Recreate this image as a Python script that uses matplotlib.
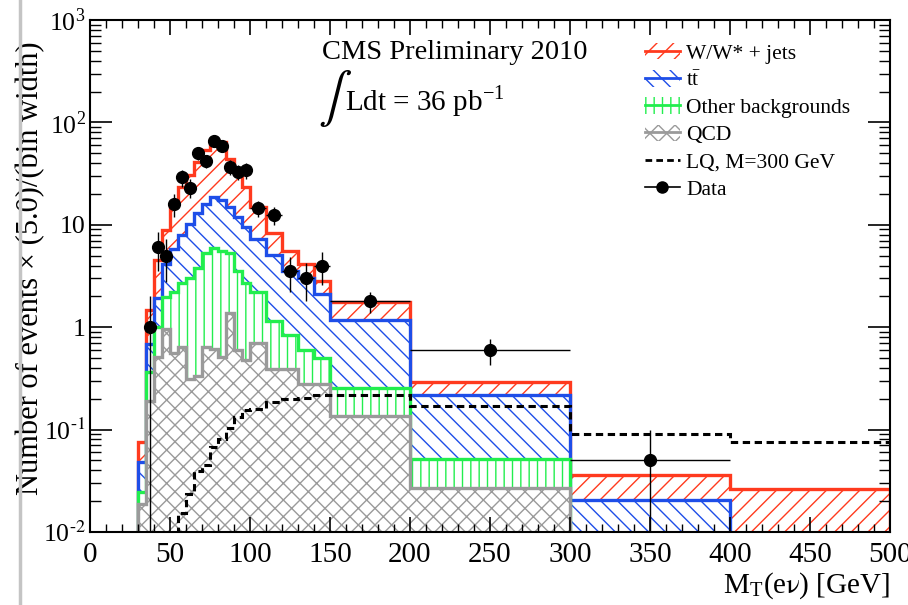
import numpy as np
import matplotlib
matplotlib.use("Agg")
import matplotlib.pyplot as plt
from matplotlib.patches import Patch
from matplotlib.lines import Line2D

plt.rcParams['font.family'] = ['Liberation Serif', 'DejaVu Serif']
plt.rcParams['mathtext.fontset'] = 'stix'
plt.rcParams['hatch.linewidth'] = 1.0

# bin edges in GeV (5 GeV bins up to 100, then wider)
edges = [30, 35, 40, 45, 50, 55, 60, 65, 70, 75, 80, 85, 90, 95, 100,
         110, 120, 130, 140, 150, 200, 300, 400, 500]

# stacked tops (events x 5/bin width)
top_wjets = [0.076, 1.47, 4.5, 8.9, 16, 23.4, 30.5, 41, 54, 67, 64, 44, 34,
             23.4, 15, 8.3, 5.5, 4.1, 2.85, 1.77, 0.29, 0.036, 0.026]
top_ttbar = [0.048, 0.68, 1.92, 4.1, 5.8, 8.0, 10.1, 13.1, 16, 18.5, 17.3,
             14.8, 11.8, 9.5, 7.3, 5.1, 3.5, 3.0, 2.1, 1.17, 0.217, 0.0204, 1e-4]
top_other = [0.0246, 0.366, 1.0, 1.97, 2.2, 2.7, 3.0, 3.75, 5.3, 5.9, 5.6,
             5.3, 3.5, 2.7, 2.2, 1.15, 0.835, 0.6, 0.5, 0.252, 0.052, 1e-4, 1e-4]
top_qcd = [0.0186, 0.19, 0.51, 0.97, 0.56, 0.64, 0.31, 0.33, 0.64, 0.61,
           0.51, 1.38, 0.6, 0.48, 0.70, 0.39, 0.39, 0.28, 0.28, 0.135, 0.027,
           1e-4, 1e-4]
lq_300 = [1e-4, 1e-4, 1e-4, 1e-4, 1e-4, 0.0152, 0.0235, 0.039, 0.045, 0.068,
          0.08, 0.104, 0.133, 0.155, 0.16, 0.186, 0.2, 0.205, 0.217, 0.22,
          0.17, 0.09, 0.076]

# data points
data_x = [37.5, 42.5, 47.5, 52.5, 57.5, 62.5, 67.5, 72.5, 77.5, 82.5, 87.5,
          92.5, 97.5, 105, 115, 125, 135, 145, 175, 250, 350]
data_xerr = [2.5] * 13 + [5] * 5 + [25, 50, 50]
data_y = [1, 6, 5, 16, 29, 23, 50, 42, 66, 59, 37, 33, 34, 14.5, 12.5, 3.5,
          3.0, 4.0, 1.8, 0.6, 0.05]
data_err = [0.9999, 2.45, 2.24, 4, 5.4, 4.8, 7.1, 6.5, 8.1, 7.7, 6.1, 5.7,
            5.8, 2.7, 2.5, 1.3, 1.2, 1.4, 0.42, 0.17, 0.04999]

ytick_vals = [0.01, 0.1, 1, 10, 100, 1000]
ytick_text = ['10$^{\\mathregular{\u2010}2}$', '10$^{\\mathregular{\u2010}1}$',
              '1', '10', '10$^{\\mathregular{2}}$', '10$^{\\mathregular{3}}$']

c_w = '#ff3a1e'
c_tt = '#1e4ee8'
c_oth = '#22ee4e'
c_qcd = '#9a9a9a'
h_w, h_tt, h_oth, h_qcd = '//', '\\\\', '||', 'xx'

fig = plt.figure(figsize=(9.08, 6.05), dpi=100)
ax = fig.add_axes([0.0991, 0.1207, 0.8811, 0.8463])
ax.set_yscale('log')

base = 1e-4
stack = [(top_wjets, c_w, h_w), (top_ttbar, c_tt, h_tt),
         (top_other, c_oth, h_oth), (top_qcd, c_qcd, h_qcd)]
for vals, col, h in stack:
    ax.stairs(vals, edges, baseline=base, fill=True, facecolor='white',
              edgecolor=col, hatch=h, lw=0)
    ax.stairs(vals, edges, baseline=base, fill=False, color=col, lw=2.4)

ax.stairs(lq_300, edges, baseline=None, color='black', lw=2.2,
          linestyle=(0, (2.4, 1.5)))

ax.errorbar(data_x, data_y, xerr=data_xerr, yerr=data_err, fmt='o',
            color='black', ms=8.5, elinewidth=1.0, capsize=0)

ax.set_xlim(0, 500)
ax.set_ylim(0.01, 1000)
ax.set_xticks(range(0, 501, 50))
ax.set_xticks(range(0, 501, 10), minor=True)
ax.set_yticks(ytick_vals)
ax.set_yticklabels(ytick_text)
ax.tick_params(axis='both', which='both', direction='in', top=True,
               right=True)
ax.tick_params(axis='x', which='major', length=11, width=1.2, pad=7,
               labelsize=21)
ax.tick_params(axis='x', which='minor', length=6, width=1.0)
ax.tick_params(axis='y', which='major', length=16, width=1.2, pad=3,
               labelsize=18.5)
ax.tick_params(axis='y', which='minor', length=8, width=1.0)
for sp in ax.spines.values():
    sp.set_linewidth(1.5)

ax.set_ylabel('Number of events × (5.0)/(bin width)', fontsize=22)
ax.yaxis.set_label_coords(-0.056, 0.515)
ax.set_xlabel(r'M$_\mathregular{T}$(e$\mathrm{\nu}$) [GeV]', fontsize=21,
              ha='right', x=1.0, labelpad=2)

ax.text(0.4565, 0.937, 'CMS Preliminary 2010', transform=ax.transAxes,
        fontsize=20.5, ha='center', va='center')
ax.text(0.285, 0.846, r'$\int$', transform=ax.transAxes, fontsize=36,
        ha='left', va='center')
ax.text(0.319, 0.838, r'Ldt = 36 pb$^\mathregular{-1}$',
        transform=ax.transAxes, fontsize=21, ha='left', va='center')

handles = [
    (Patch(facecolor='white', edgecolor=c_w, hatch=h_w, lw=0),
     Line2D([], [], color=c_w, lw=2)),
    (Patch(facecolor='white', edgecolor=c_tt, hatch=h_tt, lw=0),
     Line2D([], [], color=c_tt, lw=2)),
    (Patch(facecolor='white', edgecolor=c_oth, hatch=h_oth, lw=0),
     Line2D([], [], color=c_oth, lw=2)),
    (Patch(facecolor='white', edgecolor=c_qcd, hatch=h_qcd, lw=0),
     Line2D([], [], color=c_qcd, lw=2)),
    Line2D([], [], color='black', lw=2, linestyle=(0, (2.4, 1.5))),
    Line2D([], [], color='black', lw=1.2, marker='o', ms=8),
]
labels = ['W/W* + jets', r't$\mathregular{\bar{t}}$', 'Other backgrounds',
          'QCD', 'LQ, M=300 GeV', 'Data']
ax.legend(handles, labels, loc='upper left', bbox_to_anchor=(0.694, 0.955),
          frameon=False, fontsize=15.5, handlelength=1.6, handleheight=0.8,
          labelspacing=0.3, handletextpad=0.3, borderaxespad=0,
          borderpad=0)

fig.add_artist(Line2D([0.022, 0.022], [0, 1], color='#c4c4c4', lw=2.5))

fig.savefig('out.png', dpi=100)
